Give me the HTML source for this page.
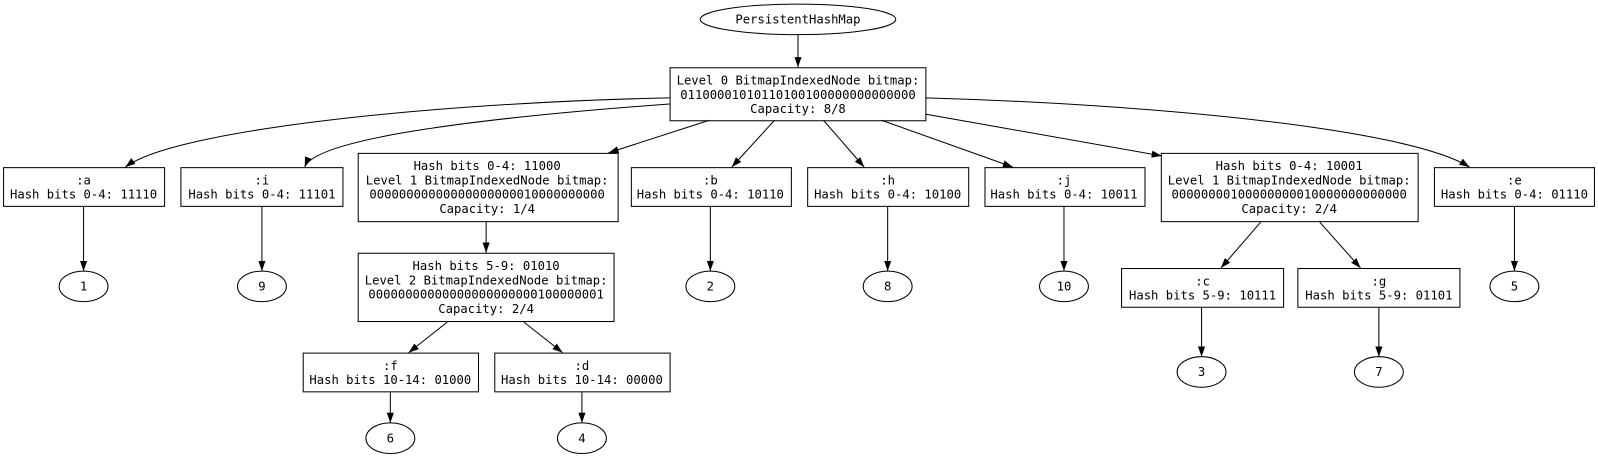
<!DOCTYPE html>
<html><head><style>body{margin:0;background:#fff}svg{display:block}text{font-family:"DejaVu Sans Mono","Liberation Mono",monospace;font-size:12px;fill:#000}</style></head>
<body>
<svg width="1598" height="459" viewBox="0 0 1568 450.4" preserveAspectRatio="none" xmlns="http://www.w3.org/2000/svg">
<defs><marker id="ar" viewBox="0 0 10 10" refX="10" refY="5" markerWidth="10" markerHeight="10" markerUnits="userSpaceOnUse" orient="auto"><path d="M0,1.5 L10,5 L0,8.5 z" fill="#000"/></marker></defs>
<g fill="none" stroke="#000" stroke-width="1">
<ellipse cx="783" cy="19" rx="96" ry="15"/>
<rect x="657.5" y="66.5" width="251" height="52"/>
<rect x="3.5" y="164.5" width="158" height="38"/>
<rect x="177.5" y="164.5" width="159" height="38"/>
<rect x="351.5" y="150.5" width="255" height="67"/>
<rect x="619.5" y="164.5" width="157" height="38"/>
<rect x="792.5" y="164.5" width="158" height="38"/>
<rect x="966.5" y="164.5" width="157" height="38"/>
<rect x="1139.5" y="150.5" width="252" height="67"/>
<rect x="1407.5" y="164.5" width="157" height="38"/>
<rect x="351.5" y="248.5" width="251" height="67"/>
<rect x="297.5" y="346.5" width="172" height="38"/>
<rect x="485.5" y="346.5" width="172" height="38"/>
<rect x="1100.5" y="263.5" width="159" height="38"/>
<rect x="1273.5" y="263.5" width="159" height="38"/>
<ellipse cx="82" cy="281" rx="24" ry="15"/>
<ellipse cx="257" cy="281" rx="24" ry="15"/>
<ellipse cx="697" cy="281" rx="24" ry="15"/>
<ellipse cx="871" cy="281" rx="24" ry="15"/>
<ellipse cx="1044" cy="281" rx="24" ry="15"/>
<ellipse cx="1486" cy="281" rx="24" ry="15"/>
<ellipse cx="383" cy="430" rx="24" ry="15"/>
<ellipse cx="571" cy="430" rx="24" ry="15"/>
<ellipse cx="1179" cy="365" rx="24" ry="15"/>
<ellipse cx="1353" cy="365" rx="24" ry="15"/>
</g>
<g fill="none" stroke="#000" stroke-width="1" marker-end="url(#ar)">
<path d="M783,34 L783,66"/>
<path d="M657,96 C420,101 170,128 123,164"/>
<path d="M657,102 C480,115 310,135 299,164"/>
<path d="M696,118 L597,150"/>
<path d="M760,118 L718,164"/>
<path d="M808,118 L848,164"/>
<path d="M865,118 L994,164"/>
<path d="M908,112 L1140,153"/>
<path d="M908,96 C1120,102 1380,125 1442,164"/>
<path d="M82,203 L82,266"/>
<path d="M257,203 L257,266"/>
<path d="M697,203 L697,266"/>
<path d="M871,203 L871,266"/>
<path d="M1044,203 L1044,266"/>
<path d="M1486,203 L1486,266"/>
<path d="M477,218 L477,248"/>
<path d="M439,316 L401,346"/>
<path d="M514,316 L552,346"/>
<path d="M383,385 L383,415"/>
<path d="M571,385 L571,415"/>
<path d="M1237,218 L1198,263"/>
<path d="M1295,218 L1335,263"/>
<path d="M1179,302 L1179,350"/>
<path d="M1353,302 L1353,350"/>
</g>
<g text-anchor="middle">
<text x="783" y="23">PersistentHashMap</text>
<text x="783" y="83">Level 0 BitmapIndexedNode bitmap:</text>
<text x="783" y="97">01100001010110100100000000000000</text>
<text x="783" y="111">Capacity: 8/8</text>
<text x="82" y="181">:a</text><text x="82" y="195">Hash bits 0-4: 11110</text>
<text x="257" y="181">:i</text><text x="257" y="195">Hash bits 0-4: 11101</text>
<text x="478" y="167">Hash bits 0-4: 11000</text>
<text x="478" y="181">Level 1 BitmapIndexedNode bitmap:</text>
<text x="478" y="195">00000000000000000000010000000000</text>
<text x="478" y="209">Capacity: 1/4</text>
<text x="697" y="181">:b</text><text x="697" y="195">Hash bits 0-4: 10110</text>
<text x="871" y="181">:h</text><text x="871" y="195">Hash bits 0-4: 10100</text>
<text x="1044" y="181">:j</text><text x="1044" y="195">Hash bits 0-4: 10011</text>
<text x="1265" y="167">Hash bits 0-4: 10001</text>
<text x="1265" y="181">Level 1 BitmapIndexedNode bitmap:</text>
<text x="1265" y="195">00000000100000000010000000000000</text>
<text x="1265" y="209">Capacity: 2/4</text>
<text x="1486" y="181">:e</text><text x="1486" y="195">Hash bits 0-4: 01110</text>
<text x="477" y="265">Hash bits 5-9: 01010</text>
<text x="477" y="279">Level 2 BitmapIndexedNode bitmap:</text>
<text x="477" y="293">00000000000000000000000100000001</text>
<text x="477" y="307">Capacity: 2/4</text>
<text x="383" y="363">:f</text><text x="383" y="377">Hash bits 10-14: 01000</text>
<text x="571" y="363">:d</text><text x="571" y="377">Hash bits 10-14: 00000</text>
<text x="1180" y="280">:c</text><text x="1180" y="294">Hash bits 5-9: 10111</text>
<text x="1353" y="280">:g</text><text x="1353" y="294">Hash bits 5-9: 01101</text>
<text x="82" y="285">1</text><text x="257" y="285">9</text><text x="697" y="285">2</text>
<text x="871" y="285">8</text><text x="1044" y="285">10</text><text x="1486" y="285">5</text>
<text x="383" y="434">6</text><text x="571" y="434">4</text>
<text x="1179" y="369">3</text><text x="1353" y="369">7</text>
</g>
</svg>
</body></html>
